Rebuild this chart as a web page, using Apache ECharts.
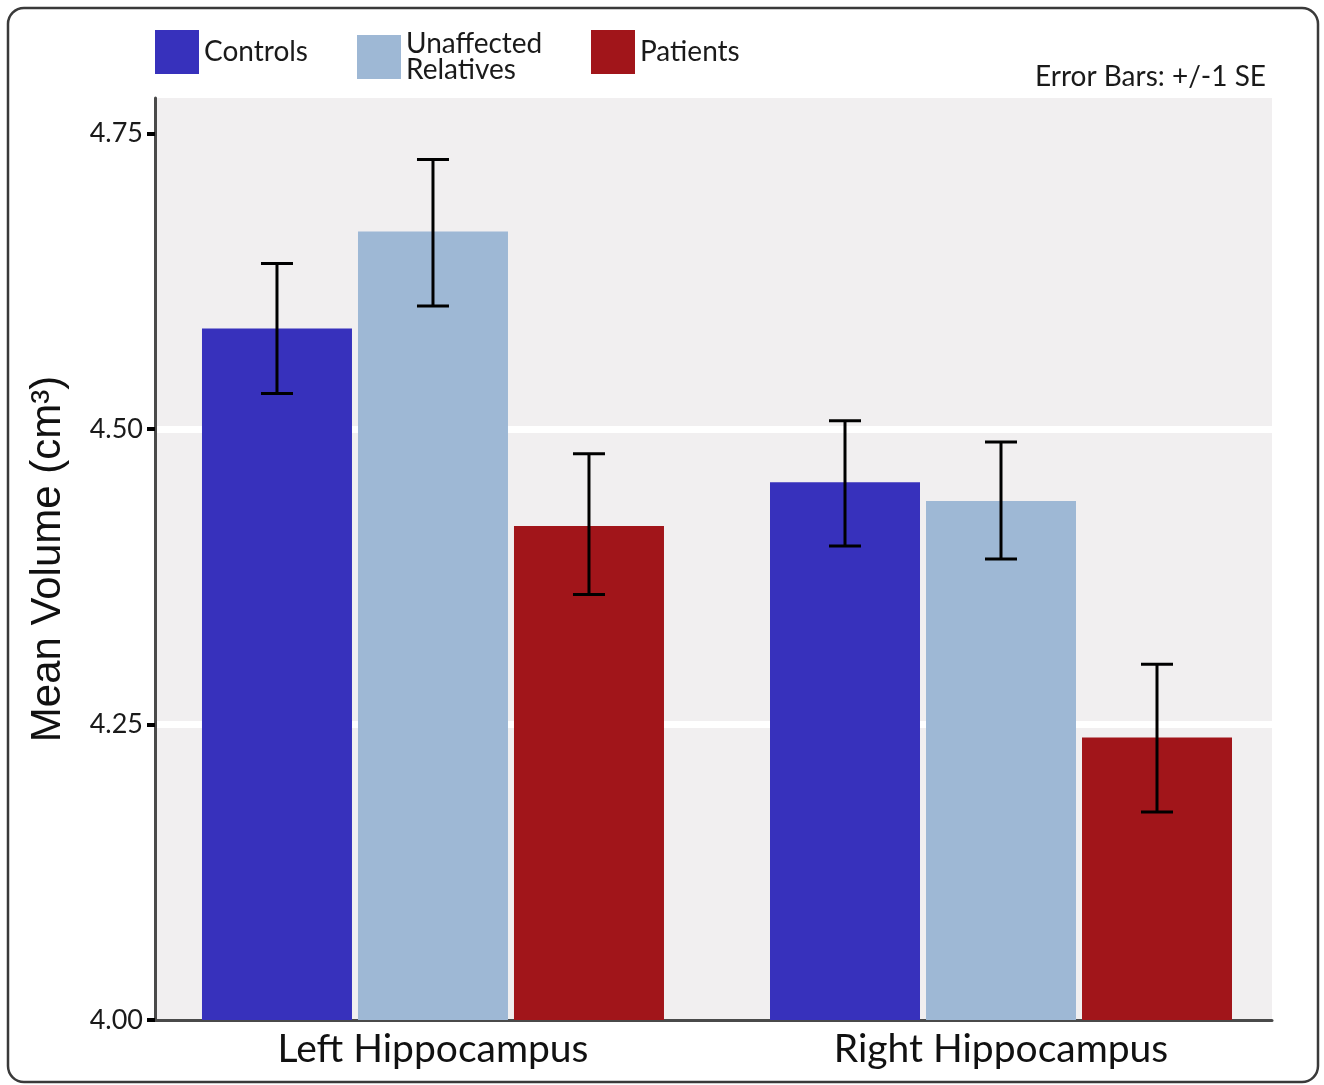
<!DOCTYPE html>
<html>
<head>
<meta charset="utf-8">
<script src="https://cdn.jsdelivr.net/npm/echarts@6/dist/echarts.min.js"></script>
<style>
html,body{margin:0;padding:0;background:#fff;}
#chart{width:1324px;height:1085px;}
</style>
</head>
<body>
<div id="chart"></div>
<script>
// ---- data ----
const categories = ['Left Hippocampus', 'Right Hippocampus'];
const groupNames = ['Controls', 'Unaffected Relatives', 'Patients'];
const controlsMean = [4.585, 4.455];
const relativesMean = [4.667, 4.439];
const patientsMean = [4.418, 4.239];
const controlsLow = [4.530, 4.401];
const controlsHigh = [4.640, 4.507];
const relativesLow = [4.604, 4.390];
const relativesHigh = [4.728, 4.489];
const patientsLow = [4.360, 4.176];
const patientsHigh = [4.479, 4.301];
const yTicks = [4.00, 4.25, 4.50, 4.75];
const yMin = 4.0, yMax = 4.78;

// ---- styles / layout ----
const colors = ['#3731bc', '#9eb8d5', '#a1151a'];
const BAR_W = 150, BAR_GAP = 6;
const FONT = 'Lato, "Open Sans", sans-serif';
const X_MIN = -0.4894, X_MAX = 1.4771; // plot extent around category positions 0 and 1

const means = [controlsMean, relativesMean, patientsMean];
const lows = [controlsLow, relativesLow, patientsLow];
const highs = [controlsHigh, relativesHigh, patientsHigh];
const catPos = categories.map((c, i) => i);

const barSeries = groupNames.map((n, k) => ({
  name: n,
  type: 'bar',
  data: catPos.map(i => [i, means[k][i]]),
  barWidth: BAR_W,
  barGap: (BAR_GAP / BAR_W * 100) + '%',
  itemStyle: { color: colors[k] },
  z: 2
}));

const errSeries = groupNames.map((n, k) => ({
  name: n + ' SE',
  type: 'custom',
  z: 5,
  silent: true,
  data: catPos.map(i => [i, lows[k][i], highs[k][i]]),
  encode: { x: 0, y: [1, 2] },
  renderItem: function (params, api) {
    const off = (k - 1) * (BAR_W + BAR_GAP);
    const pLo = api.coord([api.value(0), api.value(1)]);
    const pHi = api.coord([api.value(0), api.value(2)]);
    const x = pLo[0] + off;
    const hw = 16;
    const st = { stroke: '#000', lineWidth: 3 };
    return {
      type: 'group',
      children: [
        { type: 'line', shape: { x1: x, y1: pLo[1], x2: x, y2: pHi[1] }, style: st },
        { type: 'line', shape: { x1: x - hw, y1: pLo[1], x2: x + hw, y2: pLo[1] }, style: st },
        { type: 'line', shape: { x1: x - hw, y1: pHi[1], x2: x + hw, y2: pHi[1] }, style: st }
      ]
    };
  }
}));

const legendBase = {
  top: 30,
  padding: 0,
  itemWidth: 44,
  itemHeight: 44,
  icon: 'rect',
  selectedMode: false,
  textStyle: { fontFamily: FONT, fontSize: 28, color: '#1a1a1a', lineHeight: 26 },
  formatter: function (name) { return name.replace(' ', '\n'); }
};

const chart = echarts.init(document.getElementById('chart'), null, { renderer: 'canvas' });
chart.setOption({
  backgroundColor: '#ffffff',
  animation: false,
  legend: [
    Object.assign({}, legendBase, { left: 155, data: [groupNames[0]] }),
    Object.assign({}, legendBase, { left: 357, data: [groupNames[1]] }),
    Object.assign({}, legendBase, { left: 591, data: [groupNames[2]] })
  ],
  graphic: [
    {
      type: 'rect', z: -10, silent: true,
      shape: { x: 8, y: 8, width: 1310, height: 1074, r: 16 },
      style: { fill: 'none', stroke: '#3a3a3a', lineWidth: 2.5 }
    },
    {
      type: 'text', silent: true,
      style: {
        text: 'Error Bars: +/-1 SE', x: 1266, y: 77,
        textAlign: 'right', textVerticalAlign: 'middle',
        fontFamily: FONT, fontSize: 28, fill: '#1a1a1a'
      }
    }
  ],
  grid: {
    left: 155, right: 52, top: 98, bottom: 65,
    show: true, backgroundColor: '#f1eff0', borderWidth: 0,
    containLabel: false
  },
  xAxis: {
    type: 'value',
    min: X_MIN, max: X_MAX,
    axisLine: { show: true, onZero: false, lineStyle: { color: '#4a4a4a', width: 3 } },
    axisTick: { show: false },
    axisLabel: {
      fontFamily: FONT, fontSize: 39, color: '#111', margin: 10,
      customValues: catPos,
      formatter: function (v) { return categories[Math.round(v)]; }
    },
    splitLine: { show: false }
  },
  yAxis: {
    type: 'value',
    min: yMin, max: yMax, interval: 0.25,
    name: 'Mean Volume (cm³)',
    nameLocation: 'middle',
    nameGap: 86,
    nameTextStyle: { fontFamily: '"Liberation Sans", Arial, sans-serif', fontSize: 42, color: '#111' },
    axisLine: { show: true, onZero: false, lineStyle: { color: '#4a4a4a', width: 3 } },
    axisTick: { show: true, length: 8, lineStyle: { color: '#000', width: 4 }, customValues: yTicks },
    axisLabel: {
      fontFamily: FONT, fontSize: 27, color: '#1a1a1a', margin: 12,
      customValues: yTicks,
      formatter: function (v) { return v.toFixed(2); }
    },
    splitLine: { show: true, showMinLine: false, showMaxLine: false, lineStyle: { color: '#ffffff', width: 7 } }
  },
  series: barSeries.concat(errSeries)
});
</script>
</body>
</html>
